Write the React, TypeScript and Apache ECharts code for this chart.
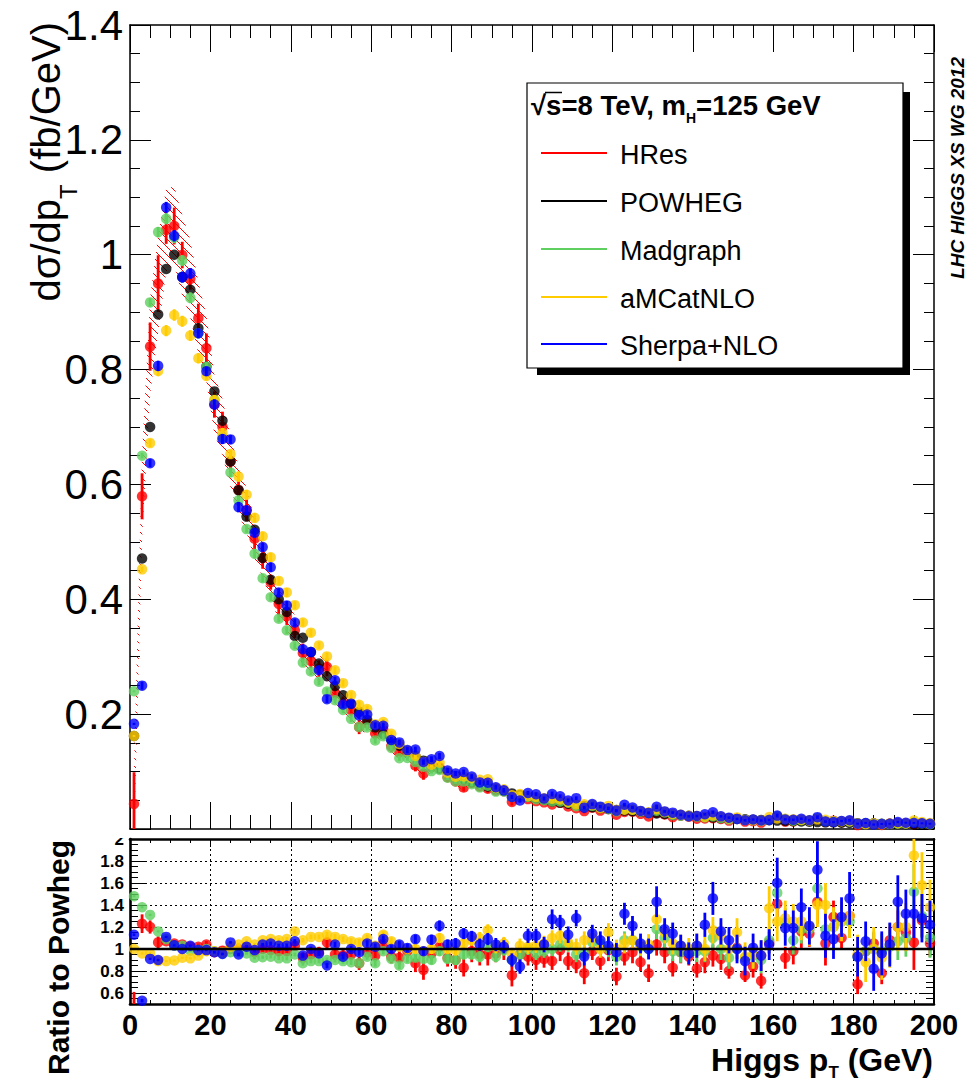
import React, { useEffect, useRef } from "react";
import * as echarts from "echarts";

// ---------- DATA ----------
const pT = [
  1, 3, 5, 7, 9, 11, 13, 15, 17, 19,
  21, 23, 25, 27, 29, 31, 33, 35, 37, 39,
  41, 43, 45, 47, 49, 51, 53, 55, 57, 59,
  61, 63, 65, 67, 69, 71, 73, 75, 77, 79,
  81, 83, 85, 87, 89, 91, 93, 95, 97, 99,
  101, 103, 105, 107, 109, 111, 113, 115, 117, 119,
  121, 123, 125, 127, 129, 131, 133, 135, 137, 139,
  141, 143, 145, 147, 149, 151, 153, 155, 157, 159,
  161, 163, 165, 167, 169, 171, 173, 175, 177, 179,
  181, 183, 185, 187, 189, 191, 193, 195, 197, 199,
];

// POWHEG dσ/dpT (fb/GeV)
const powhegMain = [
  0.162, 0.471, 0.700, 0.896, 0.975, 1.000, 0.961, 0.939, 0.872, 0.805,
  0.762, 0.711, 0.640, 0.590, 0.544, 0.521, 0.472, 0.434, 0.400, 0.378,
  0.336, 0.333, 0.308, 0.288, 0.266, 0.249, 0.233, 0.218, 0.204, 0.190,
  0.177, 0.165, 0.155, 0.145, 0.136, 0.127, 0.119, 0.112, 0.105, 0.098,
  0.092, 0.087, 0.082, 0.078, 0.074, 0.070, 0.066, 0.062, 0.059, 0.056,
  0.054, 0.051, 0.048, 0.046, 0.044, 0.042, 0.040, 0.038, 0.036, 0.035,
  0.033, 0.032, 0.031, 0.030, 0.028, 0.027, 0.026, 0.025, 0.024, 0.023,
  0.022, 0.021, 0.020, 0.019, 0.0183, 0.0176, 0.017, 0.0163, 0.0157, 0.0151,
  0.0146, 0.014, 0.0135, 0.013, 0.0125, 0.012, 0.0116, 0.0112, 0.0108, 0.0104,
  0.0100, 0.0097, 0.0094, 0.0091, 0.0088, 0.0085, 0.0082, 0.0080, 0.0078, 0.0075,
];

// Ratios to POWHEG
const hresRatio = [
  0.27, 1.23, 1.20, 1.06, 1.07, 1.05, 1.04, 1.02, 1.02, 1.04,
  0.97, 0.985, 1.00, 1.00, 1.02, 0.97, 1.00, 0.99, 0.98, 0.98,
  1.03, 0.92, 0.95, 0.97, 1.06, 0.95, 0.94, 0.95, 0.87, 0.97,
  0.94, 1.05, 0.93, 0.92, 0.98, 0.87, 0.81, 0.96, 1.02, 0.92,
  0.90, 0.83, 0.98, 0.95, 0.95, 0.96, 1.00, 0.76, 0.95, 0.93,
  0.90, 0.91, 0.89, 0.99, 0.89, 0.86, 0.78, 0.98, 0.89, 0.99,
  0.75, 0.93, 0.97, 0.88, 0.78, 1.04, 0.97, 0.83, 0.97, 0.93,
  0.82, 0.88, 0.94, 0.91, 0.80, 1.01, 0.76, 0.84, 0.71, 1.06,
  1.41, 0.92, 0.98, 1.16, 1.14, 1.43, 1.05, 1.29, 1.10, 1.30,
  0.68, 0.98, 1.05, 0.78, 1.08, 1.20, 1.15, 1.06, 1.26, 1.05,
];
const hresErr = [
  0.34, 0.085, 0.06, 0.055, 0.025, 0.032, 0.024, 0.02, 0.029, 0.032,
  0.03, 0.037, 0.03, 0.03, 0.035, 0.035, 0.04, 0.03, 0.05, 0.04,
  0.04, 0.05, 0.04, 0.05, 0.06, 0.05, 0.05, 0.05, 0.06, 0.05,
  0.05, 0.06, 0.06, 0.06, 0.06, 0.08, 0.09, 0.07, 0.07, 0.08,
  0.08, 0.08, 0.1, 0.1, 0.1, 0.08, 0.1, 0.1, 0.08, 0.08,
  0.09, 0.08, 0.08, 0.1, 0.08, 0.08, 0.1, 0.08, 0.08, 0.1,
  0.08, 0.08, 0.1, 0.08, 0.08, 0.1, 0.1, 0.08, 0.1, 0.08,
  0.08, 0.1, 0.1, 0.1, 0.07, 0.1, 0.06, 0.1, 0.07, 0.1,
  0.12, 0.1, 0.12, 0.15, 0.12, 0.2, 0.2, 0.15, 0.1, 0.15,
  0.09, 0.1, 0.1, 0.1, 0.12, 0.15, 0.15, 0.25, 0.15, 0.12,
];
// HRes uncertainty band, relative half-width
const hresBandRel = [
  1.5, 0.13, 0.10, 0.09, 0.07, 0.065, 0.07, 0.07, 0.07, 0.07,
  0.07, 0.07, 0.07, 0.07, 0.07, 0.07, 0.07, 0.07, 0.07, 0.07,
  0.075, 0.075, 0.075, 0.075, 0.075, 0.075, 0.075, 0.075, 0.075, 0.075,
  0.08, 0.08, 0.08, 0.08, 0.08, 0.08, 0.08, 0.08, 0.08, 0.08,
  0.08, 0.08, 0.08, 0.08, 0.08, 0.08, 0.08, 0.08, 0.08, 0.08,
  0.08, 0.08, 0.08, 0.08, 0.08, 0.08, 0.08, 0.08, 0.08, 0.08,
  0.08, 0.08, 0.08, 0.08, 0.08, 0.08, 0.08, 0.08, 0.08, 0.08,
  0.08, 0.08, 0.08, 0.08, 0.08, 0.08, 0.08, 0.08, 0.08, 0.08,
  0.08, 0.08, 0.08, 0.08, 0.08, 0.08, 0.08, 0.08, 0.08, 0.08,
  0.08, 0.08, 0.08, 0.08, 0.08, 0.08, 0.08, 0.08, 0.08, 0.08,
];

const madgraphRatio = [
  1.48, 1.38, 1.31, 1.16, 1.09, 1.03, 1.03, 0.985, 0.99, 1.00,
  0.98, 0.96, 0.97, 0.97, 0.96, 0.92, 0.925, 0.93, 0.915, 0.915,
  0.95, 0.87, 0.89, 0.89, 0.90, 0.90, 0.89, 0.88, 0.87, 0.93,
  0.87, 0.98, 0.91, 0.85, 0.91, 0.92, 0.91, 0.90, 0.98, 0.91,
  0.90, 0.95, 0.95, 0.93, 1.02, 0.93, 0.99, 0.90, 0.95, 1.00,
  0.96, 0.98, 1.00, 1.04, 1.04, 0.95, 0.96, 1.06, 1.05, 1.00,
  0.93, 1.08, 1.08, 1.02, 1.00, 1.18, 1.10, 0.98, 0.97, 0.97,
  0.98, 0.98, 1.10, 1.00, 0.92, 1.00, 0.92, 0.94, 0.90, 1.08,
  1.51, 1.24, 1.08, 1.18, 1.18, 1.55, 1.18, 1.20, 1.25, 1.25,
  0.93, 0.98, 1.00, 0.98, 1.02, 1.07, 1.10, 1.52, 1.30, 1.10,
];
const madgraphErr = [
  0.01, 0.01, 0.01, 0.01, 0.01, 0.01, 0.01, 0.01, 0.01, 0.01,
  0.01, 0.012, 0.012, 0.012, 0.012, 0.015, 0.015, 0.015, 0.015, 0.018,
  0.018, 0.02, 0.02, 0.02, 0.022, 0.022, 0.025, 0.025, 0.025, 0.028,
  0.03, 0.03, 0.03, 0.032, 0.035, 0.035, 0.04, 0.04, 0.04, 0.04,
  0.045, 0.045, 0.045, 0.05, 0.05, 0.05, 0.05, 0.055, 0.055, 0.055,
  0.06, 0.06, 0.065, 0.065, 0.065, 0.07, 0.07, 0.07, 0.075, 0.075,
  0.08, 0.08, 0.08, 0.085, 0.085, 0.09, 0.09, 0.09, 0.095, 0.095,
  0.1, 0.1, 0.1, 0.1, 0.1, 0.11, 0.11, 0.11, 0.12, 0.12,
  0.15, 0.13, 0.13, 0.13, 0.14, 0.18, 0.14, 0.15, 0.15, 0.15,
  0.15, 0.15, 0.16, 0.16, 0.16, 0.17, 0.17, 0.25, 0.2, 0.18,
];

const amcatnloRatio = [
  1.00, 0.96, 0.96, 0.89, 0.89, 0.895, 0.92, 0.915, 0.94, 0.98,
  0.98, 0.97, 1.02, 1.04, 1.07, 1.04, 1.08, 1.09, 1.08, 1.09,
  1.16, 1.08, 1.11, 1.11, 1.13, 1.11, 1.09, 1.07, 1.06, 1.10,
  1.03, 1.13, 1.07, 1.02, 1.00, 1.00, 0.98, 1.00, 1.10, 1.00,
  0.99, 1.05, 1.08, 1.10, 1.17, 1.02, 1.05, 0.95, 1.03, 1.02,
  1.03, 1.05, 1.10, 1.12, 1.06, 1.02, 1.08, 1.10, 1.00, 1.15,
  1.00, 1.05, 1.08, 1.03, 1.04, 1.27, 1.15, 1.05, 1.03, 1.00,
  1.03, 1.00, 1.17, 1.12, 1.00, 1.15, 0.93, 0.95, 0.94, 1.37,
  1.25, 1.28, 1.25, 1.25, 1.20, 1.40, 1.40, 1.20, 1.25, 1.30,
  0.95, 0.88, 1.00, 0.92, 1.03, 1.20, 1.20, 1.85, 1.58, 1.38,
];
const amcatnloErr = [
  0.01, 0.01, 0.01, 0.01, 0.01, 0.01, 0.01, 0.01, 0.01, 0.01,
  0.012, 0.012, 0.012, 0.015, 0.015, 0.015, 0.015, 0.018, 0.018, 0.02,
  0.02, 0.02, 0.022, 0.022, 0.025, 0.025, 0.025, 0.028, 0.03, 0.03,
  0.03, 0.032, 0.035, 0.035, 0.04, 0.04, 0.04, 0.045, 0.045, 0.045,
  0.05, 0.05, 0.05, 0.055, 0.055, 0.06, 0.06, 0.06, 0.065, 0.065,
  0.065, 0.07, 0.07, 0.07, 0.075, 0.075, 0.08, 0.08, 0.08, 0.085,
  0.085, 0.09, 0.09, 0.09, 0.095, 0.1, 0.1, 0.1, 0.1, 0.1,
  0.11, 0.11, 0.12, 0.12, 0.12, 0.13, 0.13, 0.13, 0.14, 0.2,
  0.18, 0.16, 0.16, 0.17, 0.17, 0.2, 0.2, 0.18, 0.18, 0.2,
  0.18, 0.18, 0.2, 0.2, 0.2, 0.22, 0.22, 0.3, 0.3, 0.25,
];

const sherpaRatio = [
  1.13, 0.53, 0.91, 0.90, 1.11, 1.033, 1.00, 1.03, 0.99, 0.99,
  0.97, 0.955, 1.06, 0.95, 1.02, 0.99, 1.04, 1.05, 1.03, 1.03,
  1.07, 0.94, 1.00, 0.96, 0.85, 1.04, 0.93, 1.00, 0.97, 1.05,
  1.02, 1.09, 1.00, 1.04, 1.01, 1.09, 0.98, 1.085, 1.21, 1.04,
  1.05, 1.14, 1.115, 1.04, 1.09, 1.04, 1.02, 0.90, 0.84, 1.12,
  1.12, 1.04, 1.27, 1.24, 1.13, 1.28, 0.93, 1.14, 1.08, 1.03,
  0.97, 1.32, 1.21, 1.05, 1.00, 1.43, 1.18, 1.14, 1.03, 0.96,
  1.03, 1.22, 1.46, 1.16, 1.08, 1.00, 0.89, 1.01, 0.94, 1.04,
  1.60, 1.19, 1.19, 1.38, 1.21, 1.72, 1.12, 1.09, 1.29, 1.46,
  0.93, 1.07, 0.82, 0.96, 1.04, 1.43, 1.32, 1.32, 1.28, 1.22,
];
const sherpaErr = [
  0.012, 0.015, 0.01, 0.01, 0.01, 0.01, 0.01, 0.01, 0.01, 0.01,
  0.012, 0.012, 0.012, 0.015, 0.015, 0.015, 0.015, 0.018, 0.018, 0.02,
  0.02, 0.02, 0.022, 0.022, 0.025, 0.025, 0.025, 0.028, 0.03, 0.03,
  0.03, 0.032, 0.035, 0.035, 0.04, 0.04, 0.04, 0.045, 0.05, 0.045,
  0.05, 0.05, 0.05, 0.055, 0.055, 0.06, 0.06, 0.06, 0.065, 0.065,
  0.065, 0.07, 0.09, 0.07, 0.075, 0.075, 0.08, 0.08, 0.08, 0.085,
  0.085, 0.1, 0.09, 0.09, 0.095, 0.14, 0.1, 0.1, 0.1, 0.1,
  0.11, 0.11, 0.15, 0.12, 0.12, 0.13, 0.13, 0.13, 0.14, 0.14,
  0.23, 0.16, 0.16, 0.17, 0.17, 0.26, 0.2, 0.18, 0.18, 0.24,
  0.18, 0.18, 0.2, 0.2, 0.2, 0.24, 0.22, 0.22, 0.22, 0.22,
];

const ratioTicks = [0.6, 0.8, 1.0, 1.2, 1.4, 1.6, 1.8, 2.0];
const ratioGridLines = [0.6, 0.8, 1.2, 1.4, 1.6, 1.8];
const legendEntries = ["HRes", "POWHEG", "Madgraph", "aMCatNLO", "Sherpa+NLO"];

// ---------- STYLE ----------
const FONT = '"Liberation Sans", Arial, Helvetica, sans-serif';
const COLORS: Record<string, string> = {
  HRes: "#ff0000",
  POWHEG: "#000000",
  Madgraph: "#5fcf5f",
  aMCatNLO: "#ffcc00",
  "Sherpa+NLO": "#0000ff",
};
const MARKER = 10.5;

function hatchPattern(color: string) {
  const s = 8;
  const c = document.createElement("canvas");
  c.width = s;
  c.height = s;
  const ctx = c.getContext("2d")!;
  ctx.strokeStyle = color;
  ctx.lineWidth = 1;
  ctx.beginPath();
  for (const k of [-s, 0, s]) {
    ctx.moveTo(-1, k - 1);
    ctx.lineTo(s + 1, k + s + 1);
  }
  ctx.stroke();
  return { image: c.toDataURL(), repeat: "repeat", imageWidth: s, imageHeight: s };
}

function buildOption() {
  const tick = { color: "#000", width: 1 };
  const models = [
    { name: "HRes", ratio: hresRatio, err: hresErr },
    { name: "Madgraph", ratio: madgraphRatio, err: madgraphErr },
    { name: "aMCatNLO", ratio: amcatnloRatio, err: amcatnloErr },
    { name: "Sherpa+NLO", ratio: sherpaRatio, err: sherpaErr },
  ];

  const errBar = (color: string) => (_p: any, api: any) => {
    const x = api.value(0);
    const a = api.coord([x, api.value(1)]);
    const b = api.coord([x, api.value(2)]);
    return {
      type: "line",
      shape: { x1: a[0], y1: a[1], x2: b[0], y2: b[1] },
      style: { stroke: color, lineWidth: 2.8 },
    };
  };

  const series: any[] = [];
  let z = 2;

  // HRes hatched band (main panel)
  const pattern = hatchPattern("#ff0000");
  series.push({
    type: "custom",
    xAxisIndex: 0,
    yAxisIndex: 0,
    clip: true,
    z: z++,
    silent: true,
    data: [[0, 0]],
    renderItem: (_p: any, api: any) => {
      const hi = pT.map((x, i) => api.coord([x, powhegMain[i] * hresRatio[i] * (1 + hresBandRel[i])]));
      const lo = pT
        .map((x, i) => api.coord([x, powhegMain[i] * hresRatio[i] * (1 - hresBandRel[i])]))
        .reverse();
      return {
        type: "polygon",
        shape: { points: hi.concat(lo) },
        style: { fill: pattern as any, stroke: "none" },
      };
    },
  });

  // dotted horizontal grid lines in ratio panel
  series.push({
    type: "line",
    xAxisIndex: 2,
    yAxisIndex: 2,
    z: 1,
    silent: true,
    showSymbol: false,
    lineStyle: { opacity: 0 },
    data: [[0, 1], [200, 1]],
    markLine: {
      silent: true,
      symbol: ["none", "none"],
      label: { show: false },
      lineStyle: { color: "#000", type: [2, 3], width: 1 },
      data: ratioGridLines.map((v) => ({ yAxis: v })),
    },
  });

  const order = ["HRes", "POWHEG", "Madgraph", "aMCatNLO", "Sherpa+NLO"];
  for (const name of order) {
    const color = COLORS[name];
    if (name === "POWHEG") {
      series.push({
        type: "scatter",
        name,
        xAxisIndex: 0,
        yAxisIndex: 0,
        z: z++,
        symbol: "circle",
        symbolSize: MARKER,
        itemStyle: { color },
        data: pT.map((x, i) => [x, powhegMain[i]]),
      });
      continue;
    }
    const m = models.find((mm) => mm.name === name)!;
    // main panel
    series.push({
      type: "custom",
      xAxisIndex: 0,
      yAxisIndex: 0,
      clip: true,
      z: z++,
      renderItem: errBar(color),
      encode: { x: 0, y: [1, 2] },
      data: pT.map((x, i) => [x, powhegMain[i] * (m.ratio[i] - m.err[i]), powhegMain[i] * (m.ratio[i] + m.err[i])]),
    });
    series.push({
      type: "scatter",
      name,
      xAxisIndex: 0,
      yAxisIndex: 0,
      z: z++,
      symbol: "circle",
      symbolSize: MARKER,
      itemStyle: { color },
      data: pT.map((x, i) => [x, powhegMain[i] * m.ratio[i]]),
    });
    // ratio panel
    series.push({
      type: "custom",
      xAxisIndex: 2,
      yAxisIndex: 2,
      clip: true,
      z: z++,
      renderItem: errBar(color),
      encode: { x: 0, y: [1, 2] },
      data: pT.map((x, i) => [x, m.ratio[i] - m.err[i], m.ratio[i] + m.err[i]]),
    });
    series.push({
      type: "scatter",
      name: name + " ratio",
      xAxisIndex: 2,
      yAxisIndex: 2,
      z: z++,
      symbol: "circle",
      symbolSize: MARKER,
      itemStyle: { color },
      data: pT.map((x, i) => [x, m.ratio[i]]),
    });
  }

  // POWHEG / POWHEG = 1 reference line
  series.push({
    type: "line",
    xAxisIndex: 2,
    yAxisIndex: 2,
    z: 50,
    silent: true,
    showSymbol: false,
    lineStyle: { color: "#000", width: 2.6 },
    data: [[0, 1], [200, 1]],
  });

  const xBase = (grid: number, pos: string, lw: number, major: number, minor: number) => ({
    type: "value",
    gridIndex: grid,
    position: pos,
    min: 0,
    max: 200,
    interval: 20,
    axisLine: { show: true, onZero: false, lineStyle: { color: "#000", width: lw } },
    axisTick: { show: true, inside: true, length: major, lineStyle: tick },
    minorTick: { show: true, splitNumber: 4, length: minor, lineStyle: tick },
    axisLabel: { show: false },
    splitLine: { show: false },
  });

  const fmt = (v: number) => String(Math.round(v * 10) / 10);

  const xAxis = [
    xBase(0, "bottom", 1.5, 27, 14),
    xBase(0, "top", 1.5, 27, 13),
    {
      ...xBase(1, "bottom", 2.6, 8, 4),
      axisLabel: {
        show: true,
        color: "#000",
        fontFamily: FONT,
        fontWeight: "bold",
        fontSize: 29,
        margin: 6,
      },
    },
    {
      ...xBase(1, "top", 2.6, 8, 4),
      splitLine: { show: true, lineStyle: { color: "#000", type: [2, 3], width: 1 } },
    },
  ];

  const yAxis = [
    {
      type: "value",
      gridIndex: 0,
      position: "left",
      min: 0,
      max: 1.4,
      interval: 0.2,
      axisLine: { show: true, onZero: false, lineStyle: { color: "#000", width: 1.5 } },
      axisTick: { show: true, inside: true, length: 21, lineStyle: tick },
      minorTick: { show: true, splitNumber: 4, length: 10, lineStyle: tick },
      axisLabel: {
        color: "#000",
        fontFamily: FONT,
        fontSize: 42,
        margin: 7,
        formatter: (v: number) => (Math.abs(v) < 1e-9 ? "" : fmt(v)),
      },
      splitLine: { show: false },
    },
    {
      type: "value",
      gridIndex: 0,
      position: "right",
      min: 0,
      max: 1.4,
      interval: 0.2,
      axisLine: { show: true, onZero: false, lineStyle: { color: "#000", width: 1.5 } },
      axisTick: { show: true, inside: true, length: 21, lineStyle: tick },
      minorTick: { show: true, splitNumber: 4, length: 10, lineStyle: tick },
      axisLabel: { show: false },
      splitLine: { show: false },
    },
    {
      type: "value",
      gridIndex: 1,
      position: "left",
      min: 0.5,
      max: 2,
      axisLine: { show: true, onZero: false, lineStyle: { color: "#000", width: 2.6 } },
      axisTick: { show: true, inside: true, length: 15, lineStyle: tick, customValues: ratioTicks },
      axisLabel: {
        color: "#000",
        fontFamily: FONT,
        fontWeight: "bold",
        fontSize: 17,
        margin: 6,
        customValues: ratioTicks,
        formatter: (v: number) => (Math.abs(v - 0.5) < 1e-9 ? "" : fmt(v)),
      },
      splitLine: { show: false },
    },
    {
      type: "value",
      gridIndex: 1,
      position: "left",
      min: 0.5,
      max: 2,
      interval: 0.05,
      axisLine: { show: false, onZero: false },
      axisTick: { show: true, inside: true, length: 8, lineStyle: tick },
      axisLabel: { show: false },
      splitLine: { show: false },
    },
    {
      type: "value",
      gridIndex: 1,
      position: "right",
      min: 0.5,
      max: 2,
      axisLine: { show: true, onZero: false, lineStyle: { color: "#000", width: 2 } },
      axisTick: { show: true, inside: true, length: 15, lineStyle: tick, customValues: ratioTicks },
      axisLabel: { show: false },
      splitLine: { show: false },
    },
    {
      type: "value",
      gridIndex: 1,
      position: "right",
      min: 0.5,
      max: 2,
      interval: 0.05,
      axisLine: { show: false, onZero: false },
      axisTick: { show: true, inside: true, length: 8, lineStyle: tick },
      axisLabel: { show: false },
      splitLine: { show: false },
    },
  ];

  const legendY = [153, 201, 249, 297, 344];
  const legendEls: any[] = [
    { type: "rect", shape: { x: 537, y: 92, width: 373, height: 283 }, style: { fill: "#000" }, z: 90 },
    {
      type: "rect",
      shape: { x: 527, y: 83, width: 376, height: 285 },
      style: { fill: "#fff", stroke: "#000", lineWidth: 1.2 },
      z: 91,
    },
    {
      type: "text",
      x: 531,
      y: 91,
      z: 92,
      style: {
        text: "{a|√s=8 TeV, m}{b|H}{a|=125 GeV}",
        rich: {
          a: { fontSize: 27.5, lineHeight: 27, fontWeight: "bold", fontFamily: FONT, fill: "#000", verticalAlign: "top" },
          b: { fontSize: 14, lineHeight: 14, fontWeight: "bold", fontFamily: FONT, fill: "#000", verticalAlign: "top", padding: [20, 0, 0, 0] },
        },
        verticalAlign: "top",
        align: "left",
      },
    },
    // overline of the square root
    { type: "line", z: 93, shape: { x1: 545, y1: 92.5, x2: 562, y2: 92.5 }, style: { stroke: "#000", lineWidth: 1.5 } },
  ];
  legendEntries.forEach((name, i) => {
    legendEls.push({
      type: "line",
      z: 92,
      shape: { x1: 541, y1: legendY[i], x2: 607, y2: legendY[i] },
      style: { stroke: COLORS[name], lineWidth: 2 },
    });
    legendEls.push({
      type: "text",
      z: 92,
      x: 620,
      y: legendY[i] + 2,
      style: {
        text: name,
        fontSize: 27,
        fontFamily: FONT,
        fill: "#000",
        align: "left",
        verticalAlign: "middle",
      },
    });
  });

  const graphic = [
    ...legendEls,
    // y-axis title (main)
    {
      type: "text",
      x: 26,
      y: 22,
      rotation: Math.PI / 2,
      z: 95,
      style: {
        text: "{a|dσ/dp}{b|T}{a| (fb/GeV)}",
        rich: {
          a: { fontSize: 40, lineHeight: 40, fontFamily: FONT, fill: "#000", verticalAlign: "top" },
          b: { fontSize: 24, lineHeight: 24, fontFamily: FONT, fill: "#000", verticalAlign: "top", padding: [30, 0, 0, 0] },
        },
        align: "right",
        verticalAlign: "top",
      },
    },
    // ratio title
    {
      type: "text",
      x: 58,
      y: 840,
      rotation: Math.PI / 2,
      z: 95,
      style: {
        text: "Ratio to Powheg",
        fontSize: 30,
        fontWeight: "bold",
        fontFamily: FONT,
        fill: "#000",
        align: "right",
        verticalAlign: "middle",
      },
    },
    // x-axis title
    {
      type: "text",
      x: 933,
      y: 1044,
      z: 95,
      style: {
        text: "{a|Higgs p}{b|T}{a| (GeV)}",
        rich: {
          a: { fontSize: 32, lineHeight: 32, fontWeight: "bold", fontFamily: FONT, fill: "#000", verticalAlign: "top" },
          b: { fontSize: 17, lineHeight: 17, fontWeight: "bold", fontFamily: FONT, fill: "#000", verticalAlign: "top", padding: [20, 0, 0, 0] },
        },
        align: "right",
        verticalAlign: "top",
      },
    },
    // side label
    {
      type: "text",
      x: 957,
      y: 57,
      rotation: Math.PI / 2,
      z: 95,
      style: {
        text: "LHC HIGGS XS WG 2012",
        fontSize: 19,
        fontWeight: "bold",
        fontStyle: "italic",
        fontFamily: FONT,
        fill: "#000",
        align: "right",
        verticalAlign: "middle",
      },
    },
    // upper pad hides top half of the ratio "2" label
    { type: "rect", z: 99, shape: { x: 60, y: 826, width: 66, height: 12 }, style: { fill: "#fff" } },
  ];

  return {
    animation: false,
    backgroundColor: "#fff",
    grid: [
      { left: 130, top: 25, width: 804, height: 804, show: false },
      { left: 130, top: 839, width: 804, height: 165, show: false },
    ],
    xAxis,
    yAxis,
    series,
    graphic,
  };
}

export default function App() {
  const ref = useRef<HTMLDivElement>(null);
  useEffect(() => {
    if (!ref.current) return;
    const chart = echarts.init(ref.current, null, { renderer: "svg", width: 966, height: 1088 });
    chart.setOption(buildOption() as any);
    return () => chart.dispose();
  }, []);
  return (
    <div
      ref={ref}
      style={{ position: "absolute", left: 0, top: 0, width: 966, height: 1088, background: "#fff" }}
    />
  );
}
